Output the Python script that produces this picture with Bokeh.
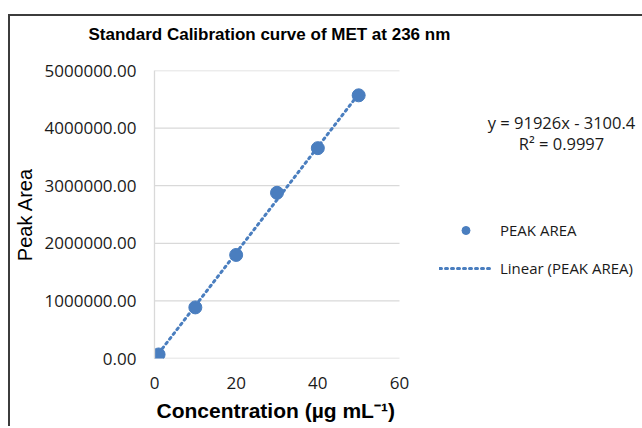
from bokeh.plotting import figure
from bokeh.models import (Range1d, NumeralTickFormatter, FixedTicker, Legend, LegendItem,
                          Label, Title)
from bokeh.embed import file_html
from bokeh.resources import INLINE

# data
concentration = [1, 10, 20, 30, 40, 50]
peak_area = [70000, 887000, 1798000, 2877000, 3652000, 4569000]
slope = 91926
intercept = -3100.4
x_ticks = [0, 20, 40, 60]
y_ticks = [0, 1000000, 2000000, 3000000, 4000000, 5000000]
title_text = "Standard Calibration curve of MET at 236 nm"
x_label = "Concentration (µg mL⁻¹)"
y_label = "Peak Area"
eq_text = "y = 91926x - 3100.4"
r2_text = "R² = 0.9997"

BLUE = "#4a7ebf"
GRID = "#d9d9d9"

x_min, x_max = x_ticks[0], x_ticks[-1]
y_min, y_max = y_ticks[0], y_ticks[-1]

# plot area (axes box) is 245 px wide; the frame extends to the right edge so the
# legend and equation (which sit right of the axes) can be drawn inside it
PLOT_W = 245
FRAME_W = 488
x_end = x_max * FRAME_W / PLOT_W

trend_x = [min(concentration), max(concentration)]
trend_y = [slope * v + intercept for v in trend_x]

p = figure(frame_width=FRAME_W, frame_height=288, output_backend="svg", toolbar_location=None,
           x_range=Range1d(x_min, x_end), y_range=Range1d(y_min, y_max),
           min_border_left=142, min_border_right=0, min_border_top=54,
           min_border_bottom=68)
p.styles = {"margin-left": "8px", "margin-top": "14px",
            "border-left": "2px solid #3c3c3c", "border-top": "2px solid #3c3c3c"}

p.outline_line_color = None
p.xgrid.grid_line_color = None
p.ygrid.grid_line_color = None

# horizontal gridlines over the axes box only
p.segment(x0=[x_min] * len(y_ticks), x1=[x_max] * len(y_ticks), y0=y_ticks, y1=y_ticks,
          line_color=GRID, line_width=1.3)

p.title.text = title_text
p.title.text_font = "Liberation Sans"
p.title.text_font_size = "17px"
p.title.text_font_style = "bold"
p.title.text_color = "#000000"
p.title.align = "left"
p.title.offset = -66
p.title.standoff = 10

# empty spacer between the title and the plot area
spacer = Title(text=" ", text_font_size="1px", standoff=19)
p.add_layout(spacer, "above")

p.xaxis.ticker = FixedTicker(ticks=x_ticks)
p.yaxis.ticker = FixedTicker(ticks=y_ticks)
p.yaxis.formatter = NumeralTickFormatter(format="0.00")
for ax in (p.xaxis[0], p.yaxis[0]):
    ax.major_tick_line_color = None
    ax.minor_tick_line_color = None
    ax.major_tick_out = 0
    ax.major_tick_in = 0
    ax.minor_tick_out = 0
    ax.minor_tick_in = 0
    ax.axis_line_color = GRID
    ax.axis_line_width = 1.3
    ax.major_label_text_font = "Open Sans"
    ax.major_label_text_font_size = "17px"
    ax.major_label_text_color = "#1a1a1a"
    ax.axis_label_text_color = "#000000"
    ax.axis_label_text_font = "Liberation Sans"
    ax.axis_label_text_font_size = "20px"
p.xaxis.axis_line_color = None
p.yaxis.major_label_standoff = 18
p.xaxis.major_label_standoff = 18
p.yaxis.axis_label = y_label
p.yaxis.axis_label_text_font_style = "normal"
p.yaxis.axis_label_standoff = 6

xt = Title(text=x_label, align="left", offset=2, standoff=10,
           text_font="Liberation Sans", text_font_size="21px", text_font_style="bold",
           text_color="#000000")
p.add_layout(xt, "below")

line_r = p.line(trend_x, trend_y, line_color=BLUE, line_width=3, line_dash="2 4",
                line_cap="round")
pts_r = p.scatter(concentration, peak_area, size=13, fill_color=BLUE, line_color=BLUE)

legend = Legend(items=[LegendItem(label="PEAK AREA", renderers=[pts_r]),
                       LegendItem(label="Linear (PEAK AREA)", renderers=[line_r])],
                location=(285, 80), glyph_width=53, glyph_height=20, label_standoff=8,
                spacing=18, border_line_color=None, background_fill_alpha=0,
                label_text_font="Open Sans", label_text_font_size="15px",
                label_text_color="#1a1a1a", padding=0, margin=0)
p.add_layout(legend)

eq1 = Label(x=407, y=236, x_units="screen", y_units="screen", text=eq_text,
            text_align="center", text_baseline="middle", text_font="Open Sans",
            text_font_size="16.5px", text_color="#1a1a1a")
eq2 = Label(x=407, y=215, x_units="screen", y_units="screen", text=r2_text,
            text_align="center", text_baseline="middle", text_font="Open Sans",
            text_font_size="16.5px", text_color="#1a1a1a")
p.add_layout(eq1)
p.add_layout(eq2)

open("out.html", "w").write(file_html(p, INLINE))
